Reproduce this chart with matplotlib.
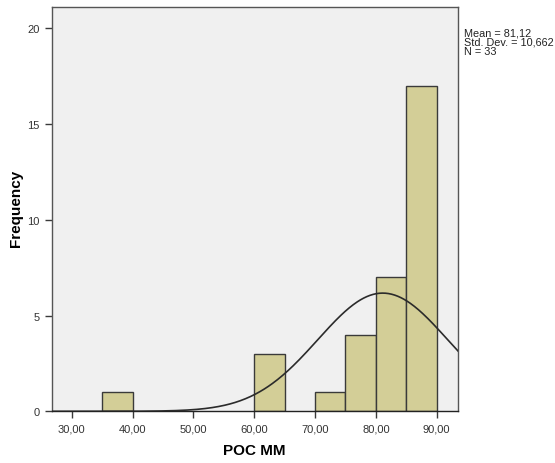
import numpy as np
import matplotlib.pyplot as plt

plt.rcParams["font.family"] = ["Liberation Sans", "DejaVu Sans"]

bin_left = [35, 60, 70, 75, 80, 85]
counts = [1, 3, 1, 4, 7, 17]
bin_width = 5
mean = 81.12
std = 10.662
n = 33
xticks = [30, 40, 50, 60, 70, 80, 90]
yticks = [0, 5, 10, 15, 20]

fig = plt.figure(figsize=(5.55, 4.64), dpi=100)
ax = fig.add_axes([0.0932, 0.1114, 0.7315, 0.8707])
ax.set_facecolor("#f0f0f0")

ax.bar(bin_left, counts, width=bin_width, align="edge",
       color="#d3ce97", edgecolor="#3a3a3a", linewidth=1.0, zorder=2)

xs = np.linspace(26, 94, 400)
pdf = np.exp(-0.5 * ((xs - mean) / std) ** 2) / (std * np.sqrt(2 * np.pi))
ax.plot(xs, pdf * n * bin_width, color="#2b2b2b", lw=1.2, zorder=3)

ax.set_xlim(26.7, 93.45)
ax.set_ylim(0, 21.1)
ax.set_xticks(xticks)
ax.set_xticklabels([f"{v:.2f}".replace(".", ",") for v in xticks])
ax.set_yticks(yticks)
ax.tick_params(direction="out", length=5, width=1, colors="#3a3a3a",
               labelsize=8, labelcolor="#333333")
for s in ax.spines.values():
    s.set_color("#555555")
    s.set_linewidth(1.0)
ax.spines["bottom"].set_color("#222222")

ax.set_xlabel("POC MM", fontsize=11, fontweight="bold")
ax.xaxis.set_label_coords(0.5, -0.078)
fig.text(16 / 555, 1 - 208 / 464, "Frequency", rotation=90, ha="center",
         va="center", fontsize=11, fontweight="bold")

stats = (f"Mean = {mean:.2f}".replace(".", ",") + "\n"
         + "Std. Dev. = " + f"{std:.3f}".replace(".", ",") + "\n"
         + f"N = {n}")
fig.text(0.836, 0.9375, stats, fontsize=7.8, va="top", ha="left",
         linespacing=0.85, color="#222222")

fig.savefig("out.png", dpi=100)
